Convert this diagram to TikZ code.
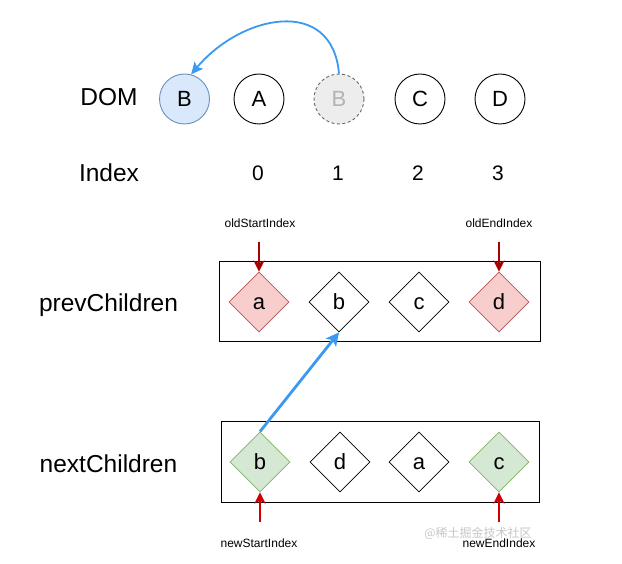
\documentclass[tikz,border=0pt]{standalone}
\usepackage{fontspec}
\setmainfont{Liberation Sans}
\newfontfamily\cjkfont{Noto Sans CJK SC}
\usetikzlibrary{shapes.geometric,arrows.meta}
\definecolor{bfill}{HTML}{DAE8FC}
\definecolor{bline}{HTML}{6C8EBF}
\definecolor{gfill}{HTML}{EDEDED}
\definecolor{gline}{HTML}{666666}
\definecolor{gtext}{HTML}{B3B3B3}
\definecolor{pfill}{HTML}{F8CECC}
\definecolor{pline}{HTML}{B85450}
\definecolor{nfill}{HTML}{D5E8D4}
\definecolor{nline}{HTML}{82B366}
\definecolor{redA}{HTML}{AA0000}
\definecolor{redB}{HTML}{CC0000}
\definecolor{blueA}{HTML}{3C99F0}
\begin{document}
\begin{tikzpicture}[x=1pt,y=-1pt,
  bigtext/.style={font=\fontsize{24.5}{24.5}\selectfont, anchor=base, inner sep=0},
  smalltext/.style={font=\fontsize{12}{12}\selectfont, inner sep=0},
  digit/.style={font=\fontsize{21}{21}\selectfont, anchor=base, inner sep=0},
  dom/.style={circle, draw, line width=0.9pt, minimum size=50pt, inner sep=0,
    font=\fontsize{22}{22}\selectfont, text height=15.5pt, text depth=0pt},
  item/.style={diamond, draw, line width=0.8pt, minimum width=60pt, minimum height=60pt, inner sep=0,
    font=\fontsize{22}{22}\selectfont, text height=15.5pt, text depth=0pt},
  frame/.style={rectangle, draw, line width=1pt, minimum height=80pt, inner sep=0},
  redarrow/.style={line width=2pt, -{Stealth[length=11pt,width=11pt,inset=2.5pt]}},
  bluearrow/.style={draw=blueA, line width=2.8pt, -{Stealth[length=13pt,width=13pt,inset=3pt]}},
]
\useasboundingbox (0,0) rectangle (622,564);
\fill[white] (0,0) rectangle (622,564);

% labels
\node[bigtext] (domlbl) at (109,106) {DOM};
\node[bigtext] (idxlbl) at (109,182) {Index};
\node[bigtext] (prevlbl) at (108.5,312) {prevChildren};
\node[bigtext] (nextlbl) at (108.5,472) {nextChildren};

% DOM circles
\node[dom, fill=bfill, draw=bline] (dB) at (184.5,99) {B};
\node[dom] (dA) at (259,99) {A};
\node[dom, fill=gfill, draw=gline, dash pattern=on 3pt off 2.5pt, text=gtext] (dG) at (339,99) {B};
\node[dom] (dC) at (420,99) {C};
\node[dom] (dD) at (500,99) {D};

% index digits
\node[digit] (i0) at (258,181) {0};
\node[digit] (i1) at (338,181) {1};
\node[digit] (i2) at (418,181) {2};
\node[digit] (i3) at (498,181) {3};

% frames
\node[frame, minimum width=321pt] (prevbox) at (379.5,302) {};
\node[frame, minimum width=318pt] (nextbox) at (380,462) {};

% prev children
\node[item, fill=pfill, draw=pline] (pa) at (259,302) {a};
\node[item] (pb) at (339,302) {b};
\node[item] (pc) at (419,302) {c};
\node[item, fill=pfill, draw=pline] (pd) at (499,302) {d};

% next children
\node[item, fill=nfill, draw=nline] (nb) at (260,462) {b};
\node[item] (nd) at (340,462) {d};
\node[item] (na) at (419,462) {a};
\node[item, fill=nfill, draw=nline] (nc) at (499,462) {c};

% pointer labels
\node[smalltext] (osl) at (260,223) {oldStartIndex};
\node[smalltext] (oel) at (499,223) {oldEndIndex};
\node[smalltext] (nsl) at (259,543) {newStartIndex};
\node[smalltext] (nel) at (499,543) {newEndIndex};
\node[font=\cjkfont\fontsize{12}{12}\selectfont, text=black!22, inner sep=0] (wm) at (478,533) {@稀土掘金技术社区};

\coordinate (os) at (259,242);
\coordinate (oe) at (499,242);
\coordinate (ns) at (260,522);
\coordinate (ne) at (499,522);

\draw[redarrow, draw=redA, color=redA] (os) -- (pa.north);
\draw[redarrow, draw=redA, color=redA] (oe) -- (pd.north);
\draw[redarrow, draw=redB, color=redB] (ns) -- (nb.south);
\draw[redarrow, draw=redB, color=redB] (ne) -- (nc.south);

% blue arrows
\draw[bluearrow, color=blueA] (nb.north) -- (pb.south);
\draw[draw=blueA, color=blueA, line width=1.8pt, -{Stealth[length=12pt,width=11pt,inset=2.5pt]}]
  (dG.north) to[out=95, in=50, looseness=1.35] (dB.75);
\end{tikzpicture}
\end{document}
